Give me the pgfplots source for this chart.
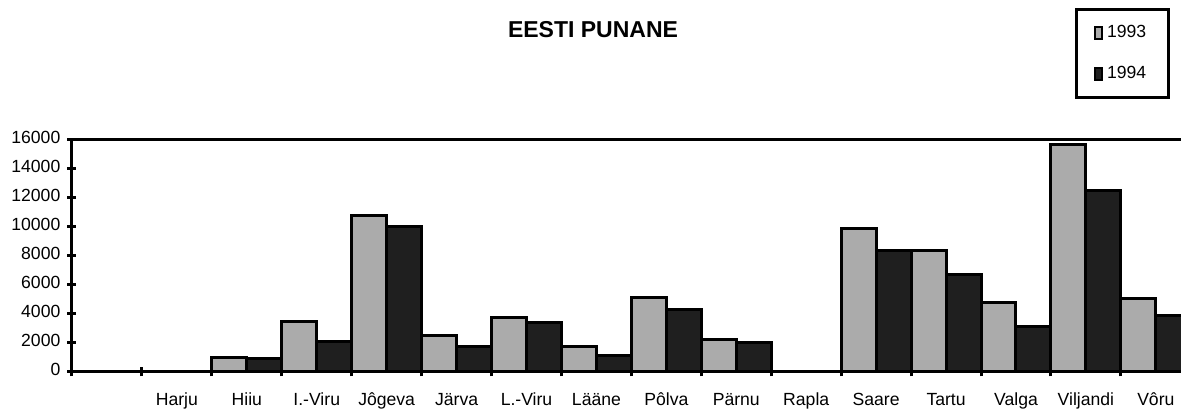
\documentclass[border=0pt]{standalone}
\usepackage{fontspec}
\setmainfont{Liberation Sans}
\usepackage{pgfplots}
\pgfplotsset{compat=1.18}
\newcommand{\lblfont}{\fontsize{8.8}{10}\selectfont}
\begin{document}
\begin{tikzpicture}
\useasboundingbox (-36pt,-19pt) rectangle (554.5pt,186pt);
\begin{axis}[
  name=ax,
  at={(0,0)}, anchor=south west,
  scale only axis, width=554.5pt, height=116pt,
  xmin=-0.5, xmax=15.36, ymin=0, ymax=16000,
  ybar=0pt, bar width=0.5,
  axis x line*=box, axis y line*=left,
  axis line style={line width=1.5pt, -},
  xtick={1,...,15},
  xticklabels={Harju,Hiiu,I.-Viru,Jôgeva,Järva,L.-Viru,Lääne,Pôlva,Pärnu,Rapla,Saare,Tartu,Valga,Viljandi,Vôru},
  minor xtick={-0.5,0.5,...,14.5},
  ytick={0,2000,...,16000},
  minor ytick={0,2000,...,16000},
  scaled y ticks=false,
  major tick length=0pt, minor tick length=4.5pt, tick align=center,
  tick style={line width=1.5pt, black},
  xtick pos=left, ytick pos=left,
  /pgf/number format/1000 sep={},
  /pgf/number format/assume math mode=true,
  every tick label/.append style={font=\lblfont},
  typeset ticklabels with strut,
  xticklabel style={font=\lblfont, yshift=-6pt},
  yticklabel style={font=\lblfont, xshift=-2.3pt},
  legend style={at={(0.947,1.373)}, anchor=center, draw=black, line width=1.5pt,
    font=\lblfont, row sep=9pt, inner xsep=9pt, inner ysep=6pt},
  legend cell align=left,
  legend image code/.code={\draw[#1, line width=0.9pt] (0pt,-3pt) rectangle (3.5pt,3pt);},
]
\addplot[fill=black!33, draw=black, line width=1.5pt] coordinates {
 (1,0) (2,1000) (3,3500) (4,10800) (5,2550) (6,3750) (7,1725) (8,5150) (9,2250) (10,0)
 (11,9900) (12,8400) (13,4780) (14,15700) (15,5040)};
\addplot[fill=black!88, draw=black, line width=1.5pt] coordinates {
 (1,0) (2,920) (3,2130) (4,10050) (5,1790) (6,3400) (7,1170) (8,4280) (9,2020) (10,0)
 (11,8370) (12,6690) (13,3130) (14,12550) (15,3880)};
\legend{1993,1994}
\end{axis}
\node[font=\fontsize{11.5}{13}\selectfont\bfseries] at (260.5pt,171pt) {EESTI PUNANE};
\end{tikzpicture}
\end{document}
